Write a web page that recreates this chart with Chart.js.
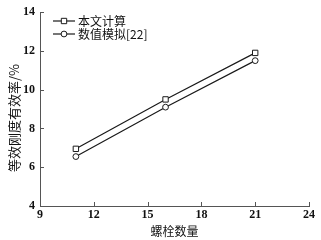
<!DOCTYPE html>
<html><head><meta charset="utf-8">
<script src="https://cdn.jsdelivr.net/npm/chart.js@4"></script>
<style>html,body{margin:0;padding:0;background:#fff}#wrap{width:321px;height:240px}</style>
</head><body><div id="wrap"><canvas id="c" width="321" height="240"></canvas></div>
<script>
const xValues = [11, 16, 21];
const calcValues = [6.95, 9.5, 11.9];
const simValues = [6.55, 9.1, 11.5];
const xTicks = [9, 12, 15, 18, 21, 24];
const yTicks = [4, 6, 8, 10, 12, 14];
const seriesLabels = ['本文计算', '数值模拟[22]'];
const xTitle = '螺栓数量';
const yTitle = '等效刚度有效率/%';

const numFont = {family: '"Liberation Serif", "DejaVu Serif", serif', size: 12, weight: 'bold'};
const legendFont = '12px "Noto Sans CJK SC", sans-serif';
const xTitleFont = '12px "Noto Sans CJK SC", sans-serif';
const yTitleFont = '13px "Noto Sans CJK SC", sans-serif';
const lineColor = '#1a1a1a';
const axisColor = '#555';

function toPoints(xs, ys){ return xs.map((x,i)=>({x:x, y:ys[i]})); }

const overlay = {
  id: 'overlay',
  afterDraw(chart){
    const ctx = chart.ctx;
    const xs = chart.scales.x, ys = chart.scales.y;
    const area = chart.chartArea;
    ctx.save();
    ctx.strokeStyle = axisColor; ctx.lineWidth = 1;
    ctx.beginPath();
    xTicks.forEach(v=>{ const px = Math.round(xs.getPixelForValue(v))+0.5; ctx.moveTo(px, area.bottom); ctx.lineTo(px, area.bottom-4); });
    yTicks.forEach(v=>{ const py = Math.round(ys.getPixelForValue(v))+0.5; ctx.moveTo(area.left, py); ctx.lineTo(area.left+4, py); });
    ctx.stroke();
    chart.data.datasets.forEach((ds,i)=>{
      const y = 21 + 13*i;
      ctx.strokeStyle = lineColor; ctx.lineWidth = 1.2;
      ctx.beginPath(); ctx.moveTo(53, y); ctx.lineTo(75, y); ctx.stroke();
      ctx.fillStyle = '#fff'; ctx.strokeStyle = lineColor; ctx.lineWidth = 1;
      Chart.helpers.drawPoint(ctx, {pointStyle: ds.pointStyle, radius: ds.pointRadius, borderWidth: 1}, 64, y);
      ctx.fillStyle = '#111'; ctx.font = legendFont; ctx.textBaseline = 'middle'; ctx.textAlign = 'left';
      ctx.fillText(ds.label, 78, y);
    });
    ctx.fillStyle = '#111';
    ctx.textAlign = 'center'; ctx.textBaseline = 'middle';
    ctx.font = xTitleFont;
    ctx.fillText(xTitle, (area.left+area.right)/2, 231);
    ctx.font = yTitleFont;
    ctx.translate(14, 118); ctx.rotate(-Math.PI/2);
    ctx.fillText(yTitle, 0, 0);
    ctx.restore();
  }
};

new Chart(document.getElementById('c'), {
  type: 'line',
  data: {
    datasets: [
      {label: seriesLabels[0], data: toPoints(xValues, calcValues), borderColor: lineColor, borderWidth: 1.2,
       pointStyle: 'rect', pointRadius: 3.8, pointBackgroundColor: '#fff', pointBorderColor: lineColor, pointBorderWidth: 1, tension: 0},
      {label: seriesLabels[1], data: toPoints(xValues, simValues), borderColor: lineColor, borderWidth: 1.2,
       pointStyle: 'circle', pointRadius: 2.9, pointBackgroundColor: '#fff', pointBorderColor: lineColor, pointBorderWidth: 1, tension: 0}
    ]
  },
  options: {
    responsive: false, animation: false, devicePixelRatio: 1,
    layout: {padding: {top: 8, right: 12, left: 0, bottom: 0}},
    plugins: {legend: {display: false}, tooltip: {enabled: false}},
    scales: {
      x: {type: 'linear', min: 9, max: 24,
          afterBuildTicks: s => { s.ticks = xTicks.map(v=>({value: v})); },
          afterFit: s => { s.height = 34; },
          grid: {drawOnChartArea: false, drawTicks: false},
          border: {display: true, color: axisColor, width: 1},
          ticks: {padding: 2, color: '#111', font: numFont, maxRotation: 0, autoSkip: false}},
      y: {type: 'linear', min: 4, max: 14,
          afterBuildTicks: s => { s.ticks = yTicks.map(v=>({value: v})); },
          afterFit: s => { s.width = 40; },
          grid: {drawOnChartArea: false, drawTicks: false},
          border: {display: true, color: axisColor, width: 1},
          ticks: {padding: 5, color: '#111', font: numFont, autoSkip: false}}
    }
  },
  plugins: [overlay]
});
</script></body></html>
